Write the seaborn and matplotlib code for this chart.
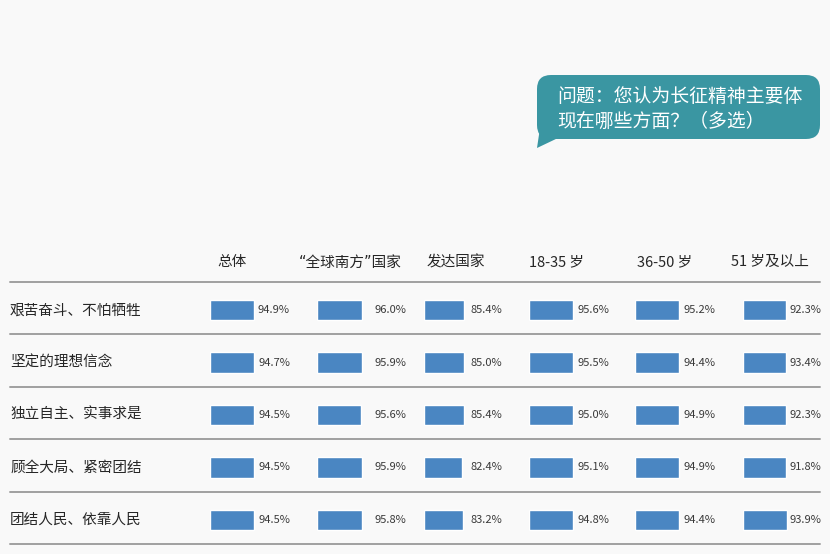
import numpy as np
import matplotlib.pyplot as plt
import seaborn as sns
from matplotlib.patches import FancyBboxPatch, Polygon

sns.set_theme(style="white")
plt.rcParams['font.family'] = ['Noto Sans CJK SC', 'DejaVu Sans']

# --- data ---
QUESTION = "问题：您认为长征精神主要体\n现在哪些方面？（多选）"
aspects = ["艰苦奋斗、不怕牺牲", "坚定的理想信念", "独立自主、实事求是",
           "顾全大局、紧密团结", "团结人民、依靠人民"]
groups = ["总体", "“全球南方”国家", "发达国家", "18-35 岁", "36-50 岁", "51 岁及以上"]
overall = [94.9, 94.7, 94.5, 94.5, 94.5]
global_south = [96.0, 95.9, 95.6, 95.9, 95.8]
developed = [85.4, 85.0, 85.4, 82.4, 83.2]
age_18_35 = [95.6, 95.5, 95.0, 95.1, 94.8]
age_36_50 = [95.2, 94.4, 94.9, 94.9, 94.4]
age_51_up = [92.3, 93.4, 92.3, 91.8, 93.9]
columns = [overall, global_south, developed, age_18_35, age_36_50, age_51_up]

# --- layout (pixels) ---
W, H = 830, 554
BG = "#f9f9f9"
BAR = "#4a86c2"
TEAL = "#3a96a2"
PX_PER_PCT = 0.465
bar_x = [210, 317, 424, 529, 635, 743]
label_off = [80, 89, 78, 80, 80, 78]
head_x = [232, 350, 456, 556, 665, 770]
top, bottom = 282, 544
SHIFT = 2  # bars/labels sit a little below row centre

fig = plt.figure(figsize=(W / 100, H / 100), dpi=100)
fig.patch.set_facecolor(BG)

# separators
ax = fig.add_axes([10 / W, 1 - bottom / H, 810 / W, (bottom - top) / H])
ax.set_ylim(len(aspects) - 0.5, -0.5)
ax.set_xlim(0, 1)
ax.axis("off")
for y in np.arange(-0.5, len(aspects)):
    ax.axhline(y, color="#a0a0a0", lw=1.4, clip_on=False)

# row labels
lax = fig.add_axes([10 / W, 1 - (bottom + SHIFT) / H, 190 / W, (bottom - top) / H])
lax.set_ylim(len(aspects) - 0.5, -0.5)
lax.axis("off")
for i, name in enumerate(aspects):
    lax.text(0, i, name, transform=lax.get_yaxis_transform(), ha="left", va="center",
             fontsize=10.5, color="#262626")

# one small bar axes per group
for j, vals in enumerate(columns):
    cax = fig.add_axes([bar_x[j] / W, 1 - (bottom + SHIFT) / H, 130 / W, (bottom - top) / H])
    sns.barplot(x=vals, y=aspects, orient="h", color=BAR, saturation=1,
                width=0.39, ax=cax)
    cax.set_xlim(0, 130 / PX_PER_PCT)
    cax.set_ylim(len(aspects) - 0.5, -0.5)
    cax.axis("off")
    for i, v in enumerate(vals):
        cax.text(label_off[j] / PX_PER_PCT, i, f"{v:.1f}%", ha="right", va="center",
                 fontsize=8, color="#3a3a3a")
    fig.text(head_x[j] / W, 1 - 262 / H, groups[j], ha="center", va="center",
             fontsize=10.5, color="#262626", family=["DejaVu Sans", "Noto Sans CJK SC"]
             if j == 1 else None)

# speech bubble
ov = fig.add_axes([0, 0, 1, 1])
ov.set_xlim(0, W)
ov.set_ylim(H, 0)
ov.axis("off")
ov.add_patch(FancyBboxPatch((537, 75), 283, 64,
                            boxstyle="round,pad=0,rounding_size=14",
                            fc=TEAL, ec="none"))
ov.add_patch(Polygon([(540, 128), (537, 148), (558, 138)], closed=True,
                     fc=TEAL, ec="none"))
ov.text(557, 109, QUESTION, ha="left", va="center", fontsize=13.6,
        color="white", linespacing=1.3)

fig.savefig("out.png", dpi=100, facecolor=BG)
